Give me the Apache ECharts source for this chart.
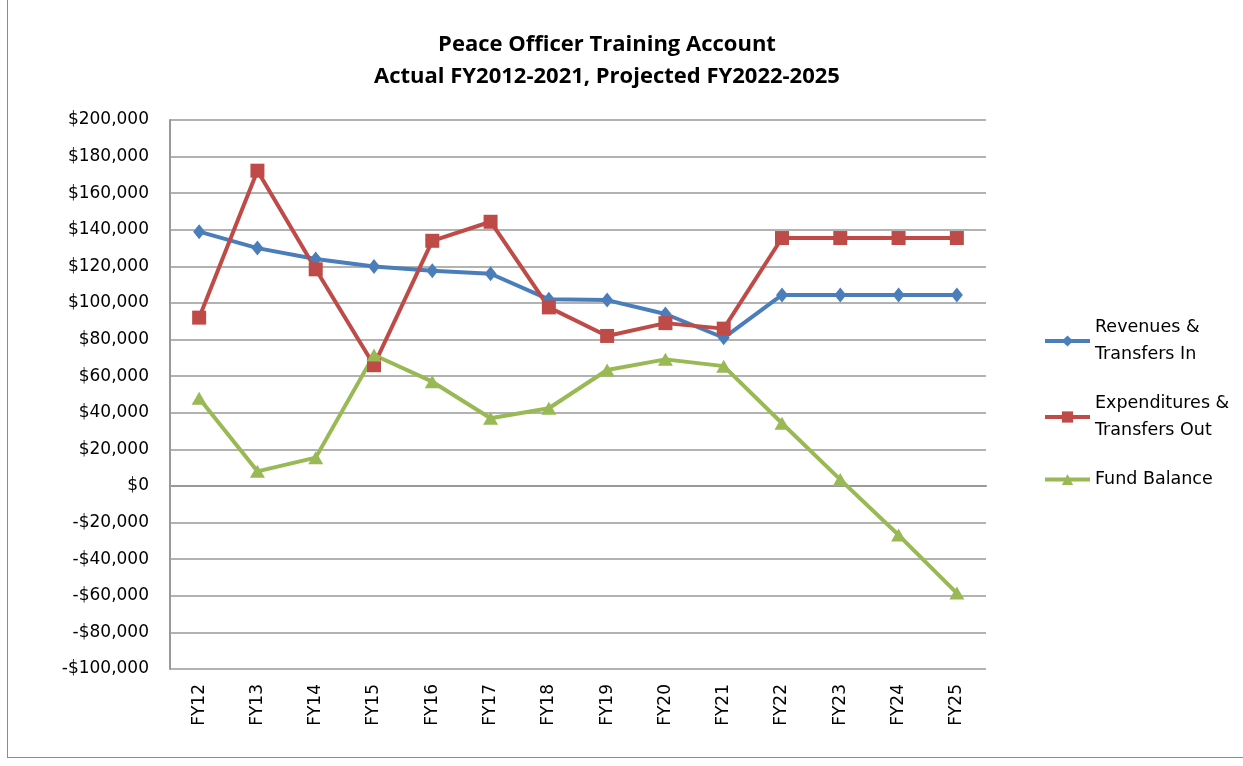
<!DOCTYPE html>
<html>
<head>
<meta charset="utf-8">
<script src="https://cdn.jsdelivr.net/npm/echarts@6/dist/echarts.min.js"></script>
<style>
  html, body { margin: 0; padding: 0; background: #fff; }
  #frame { position: absolute; left: 7px; top: -2px; width: 1250px; height: 758px; border: 1px solid #8c8c8c; }
  #chart { position: absolute; left: 0; top: 0; width: 1243px; height: 766px; }
</style>
</head>
<body>
<div id="frame"></div>
<div id="chart"></div>
<script>
    // data
    const years = ['FY12', 'FY13', 'FY14', 'FY15', 'FY16', 'FY17', 'FY18',
                   'FY19', 'FY20', 'FY21', 'FY22', 'FY23', 'FY24', 'FY25'];
    const revenues = [139000, 130000, 124000, 120000, 117600, 116000, 102000,
                      101600, 94000, 81000, 104400, 104400, 104400, 104400];
    const expenditures = [92000, 172300, 118400, 66000, 134000, 144400, 97600,
                          82000, 89000, 86000, 135500, 135500, 135500, 135500];
    const fundBalance = [48000, 8000, 15500, 71600, 57000, 37000, 42500,
                         63400, 69200, 65500, 34300, 3500, -26800, -58500];
    const seriesNames = ['Revenues & Transfers In', 'Expenditures & Transfers Out', 'Fund Balance'];
    const legendText = {
        'Revenues & Transfers In': 'Revenues &\nTransfers In',
        'Expenditures & Transfers Out': 'Expenditures &\nTransfers Out',
        'Fund Balance': 'Fund Balance'
    };

    const chartDom = document.getElementById('chart');
    const myChart = echarts.init(chartDom);

    const fmt = v => (v < 0 ? '-$' : '$') + Math.abs(v).toLocaleString('en-US');

    const option = {
        animation: false,
        title: {
            text: 'Peace Officer Training Account\nActual FY2012-2021, Projected FY2022-2025',
            left: 602,
            textAlign: 'center',
            top: 24,
            textStyle: {
                fontFamily: 'Open Sans',
                fontWeight: 'bold',
                fontSize: 22,
                lineHeight: 32,
                color: '#000'
            }
        },
        legend: {
            orient: 'vertical',
            left: 1038,
            top: 309,
            itemWidth: 45,
            itemHeight: 14,
            itemGap: 22,
            data: seriesNames,
            formatter: name => legendText[name],
            lineStyle: { width: 4 },
            textStyle: {
                fontFamily: 'DejaVu Sans',
                fontSize: 17.5,
                lineHeight: 27,
                color: '#000'
            }
        },
        grid: {
            left: 170,
            right: 257,
            top: 120,
            bottom: 97
        },
        xAxis: {
            type: 'category',
            data: years,
            axisLine: { lineStyle: { color: '#999', width: 2 } },
            axisTick: { show: false },
            axisLabel: {
                rotate: 90,
                margin: 15,
                fontFamily: 'DejaVu Sans',
                fontSize: 17,
                color: '#000'
            }
        },
        yAxis: {
            type: 'value',
            min: -100000,
            max: 200000,
            interval: 20000,
            axisLine: { show: true, lineStyle: { color: '#999', width: 2 } },
            axisTick: { show: false },
            splitLine: { lineStyle: { color: '#999', width: 1.5 } },
            axisLabel: {
                formatter: fmt,
                margin: 21,
                fontFamily: 'DejaVu Sans',
                fontSize: 17,
                color: '#000'
            }
        },
        series: [{
            name: seriesNames[0],
            type: 'line',
            data: revenues,
            symbol: 'diamond',
            symbolSize: [12, 15],
            lineStyle: { width: 4, color: '#4a7ebb' },
            itemStyle: { color: '#4a7ebb' }
        }, {
            name: seriesNames[1],
            type: 'line',
            data: expenditures,
            symbol: 'rect',
            symbolSize: 14,
            lineStyle: { width: 4, color: '#be4b48' },
            itemStyle: { color: '#be4b48' }
        }, {
            name: seriesNames[2],
            type: 'line',
            data: fundBalance,
            symbol: 'triangle',
            symbolSize: [15, 13],
            lineStyle: { width: 4, color: '#98b954' },
            itemStyle: { color: '#98b954' }
        }]
    };

    myChart.setOption(option);

    window.addEventListener('resize', () => {
        myChart.resize();
    });
</script>
</body>
</html>
